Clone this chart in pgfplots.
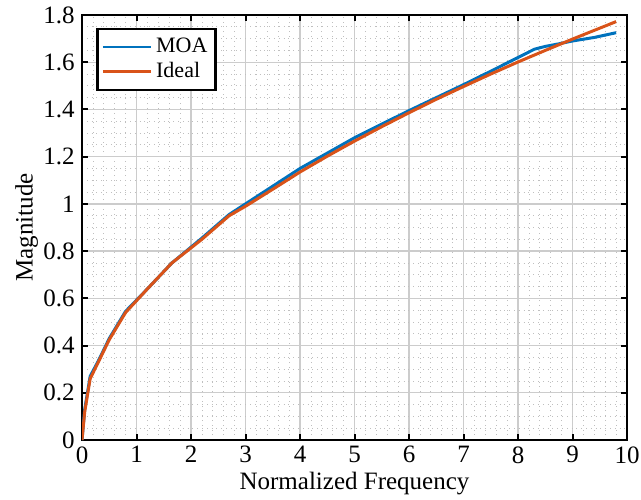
\documentclass[border=0pt]{standalone}
\usepackage{pgfplots}
\pgfplotsset{compat=1.18}
\usepackage{fontspec}
\setmainfont{Liberation Serif}
\definecolor{mblue}{rgb}{0,0.447,0.741}
\definecolor{morange}{rgb}{0.85,0.325,0.098}
\begin{document}
\fontsize{12}{14}\selectfont
\begin{tikzpicture}
\begin{axis}[
  scale only axis, width=272.5pt, height=212.5pt,
  xmin=0, xmax=10, ymin=0, ymax=1.8,
  xtick={0,1,...,10}, ytick={0,0.2,...,1.8},
  xticklabel={\pgfmathprintnumber[assume math mode=true]{\tick}},
  yticklabel={\pgfmathprintnumber[assume math mode=true,fixed,precision=1]{\tick}},
  ticklabel style={font=\fontsize{12.5}{14}\selectfont, inner sep=0pt},
  x tick label style={yshift=-3pt},
  y tick label style={xshift=-3.5pt},
  label style={font=\fontsize{12.5}{14}\selectfont, inner sep=0pt},
  xlabel={Normalized Frequency}, ylabel={Magnitude},
  xlabel style={yshift=-4pt}, ylabel style={yshift=2.5pt},
  axis line style={line width=1.2pt, black},
  major tick style={line width=1pt, black},
  tick align=inside, major tick length=3pt,
  minor tick length=0pt,
  grid=both,
  major grid style={gray!40, line width=0.7pt},
  minor grid style={gray!50, dotted, line width=0.4pt},
  minor x tick num=4, minor y tick num=3,
  legend style={at={(0.026,0.97)}, anchor=north west, draw=black, line width=1.2pt,
    font=\fontsize{11}{13}\selectfont, inner xsep=2pt, inner ysep=2.5pt, row sep=-1pt},
  legend cell align=left,
  legend image code/.code={\draw[#1, line width=1.4pt] (0pt,0pt) -- (24pt,0pt);},
]
\addplot[mblue, line width=1.5pt] coordinates {
(0,0) (0.05,0.13) (0.15,0.27) (0.3,0.335) (0.5,0.43) (0.8,0.545) (1.2,0.64) (1.65,0.75)
(2.2,0.855) (2.7,0.955) (3.0,1.0) (3.5,1.075) (4.0,1.15) (4.5,1.215) (5.0,1.28)
(5.5,1.338) (6.0,1.395) (6.5,1.45) (7.0,1.505) (7.5,1.562) (8.0,1.620) (8.3,1.655)
(8.5,1.667) (8.75,1.678) (9.0,1.690) (9.4,1.705) (9.8,1.725)
};
\addlegendentry{MOA}
\addplot[morange, line width=1.5pt] coordinates {
(0,0) (0.05,0.12) (0.15,0.26) (0.3,0.33) (0.5,0.425) (0.8,0.54) (1.2,0.64) (1.65,0.75)
(2.2,0.85) (2.7,0.95) (3.0,0.99) (3.5,1.062) (4.0,1.135) (4.5,1.202) (5.0,1.266)
(5.5,1.327) (6.0,1.386) (6.5,1.443) (7.0,1.497) (7.5,1.550) (8.0,1.601) (8.5,1.650)
(9.0,1.698) (9.4,1.735) (9.8,1.772)
};
\addlegendentry{Ideal}
\end{axis}
\path ([shift={(-41pt,-29.5pt)}]current axis.south west) rectangle ([shift={(7pt,7.5pt)}]current axis.north east);
\end{tikzpicture}
\end{document}
